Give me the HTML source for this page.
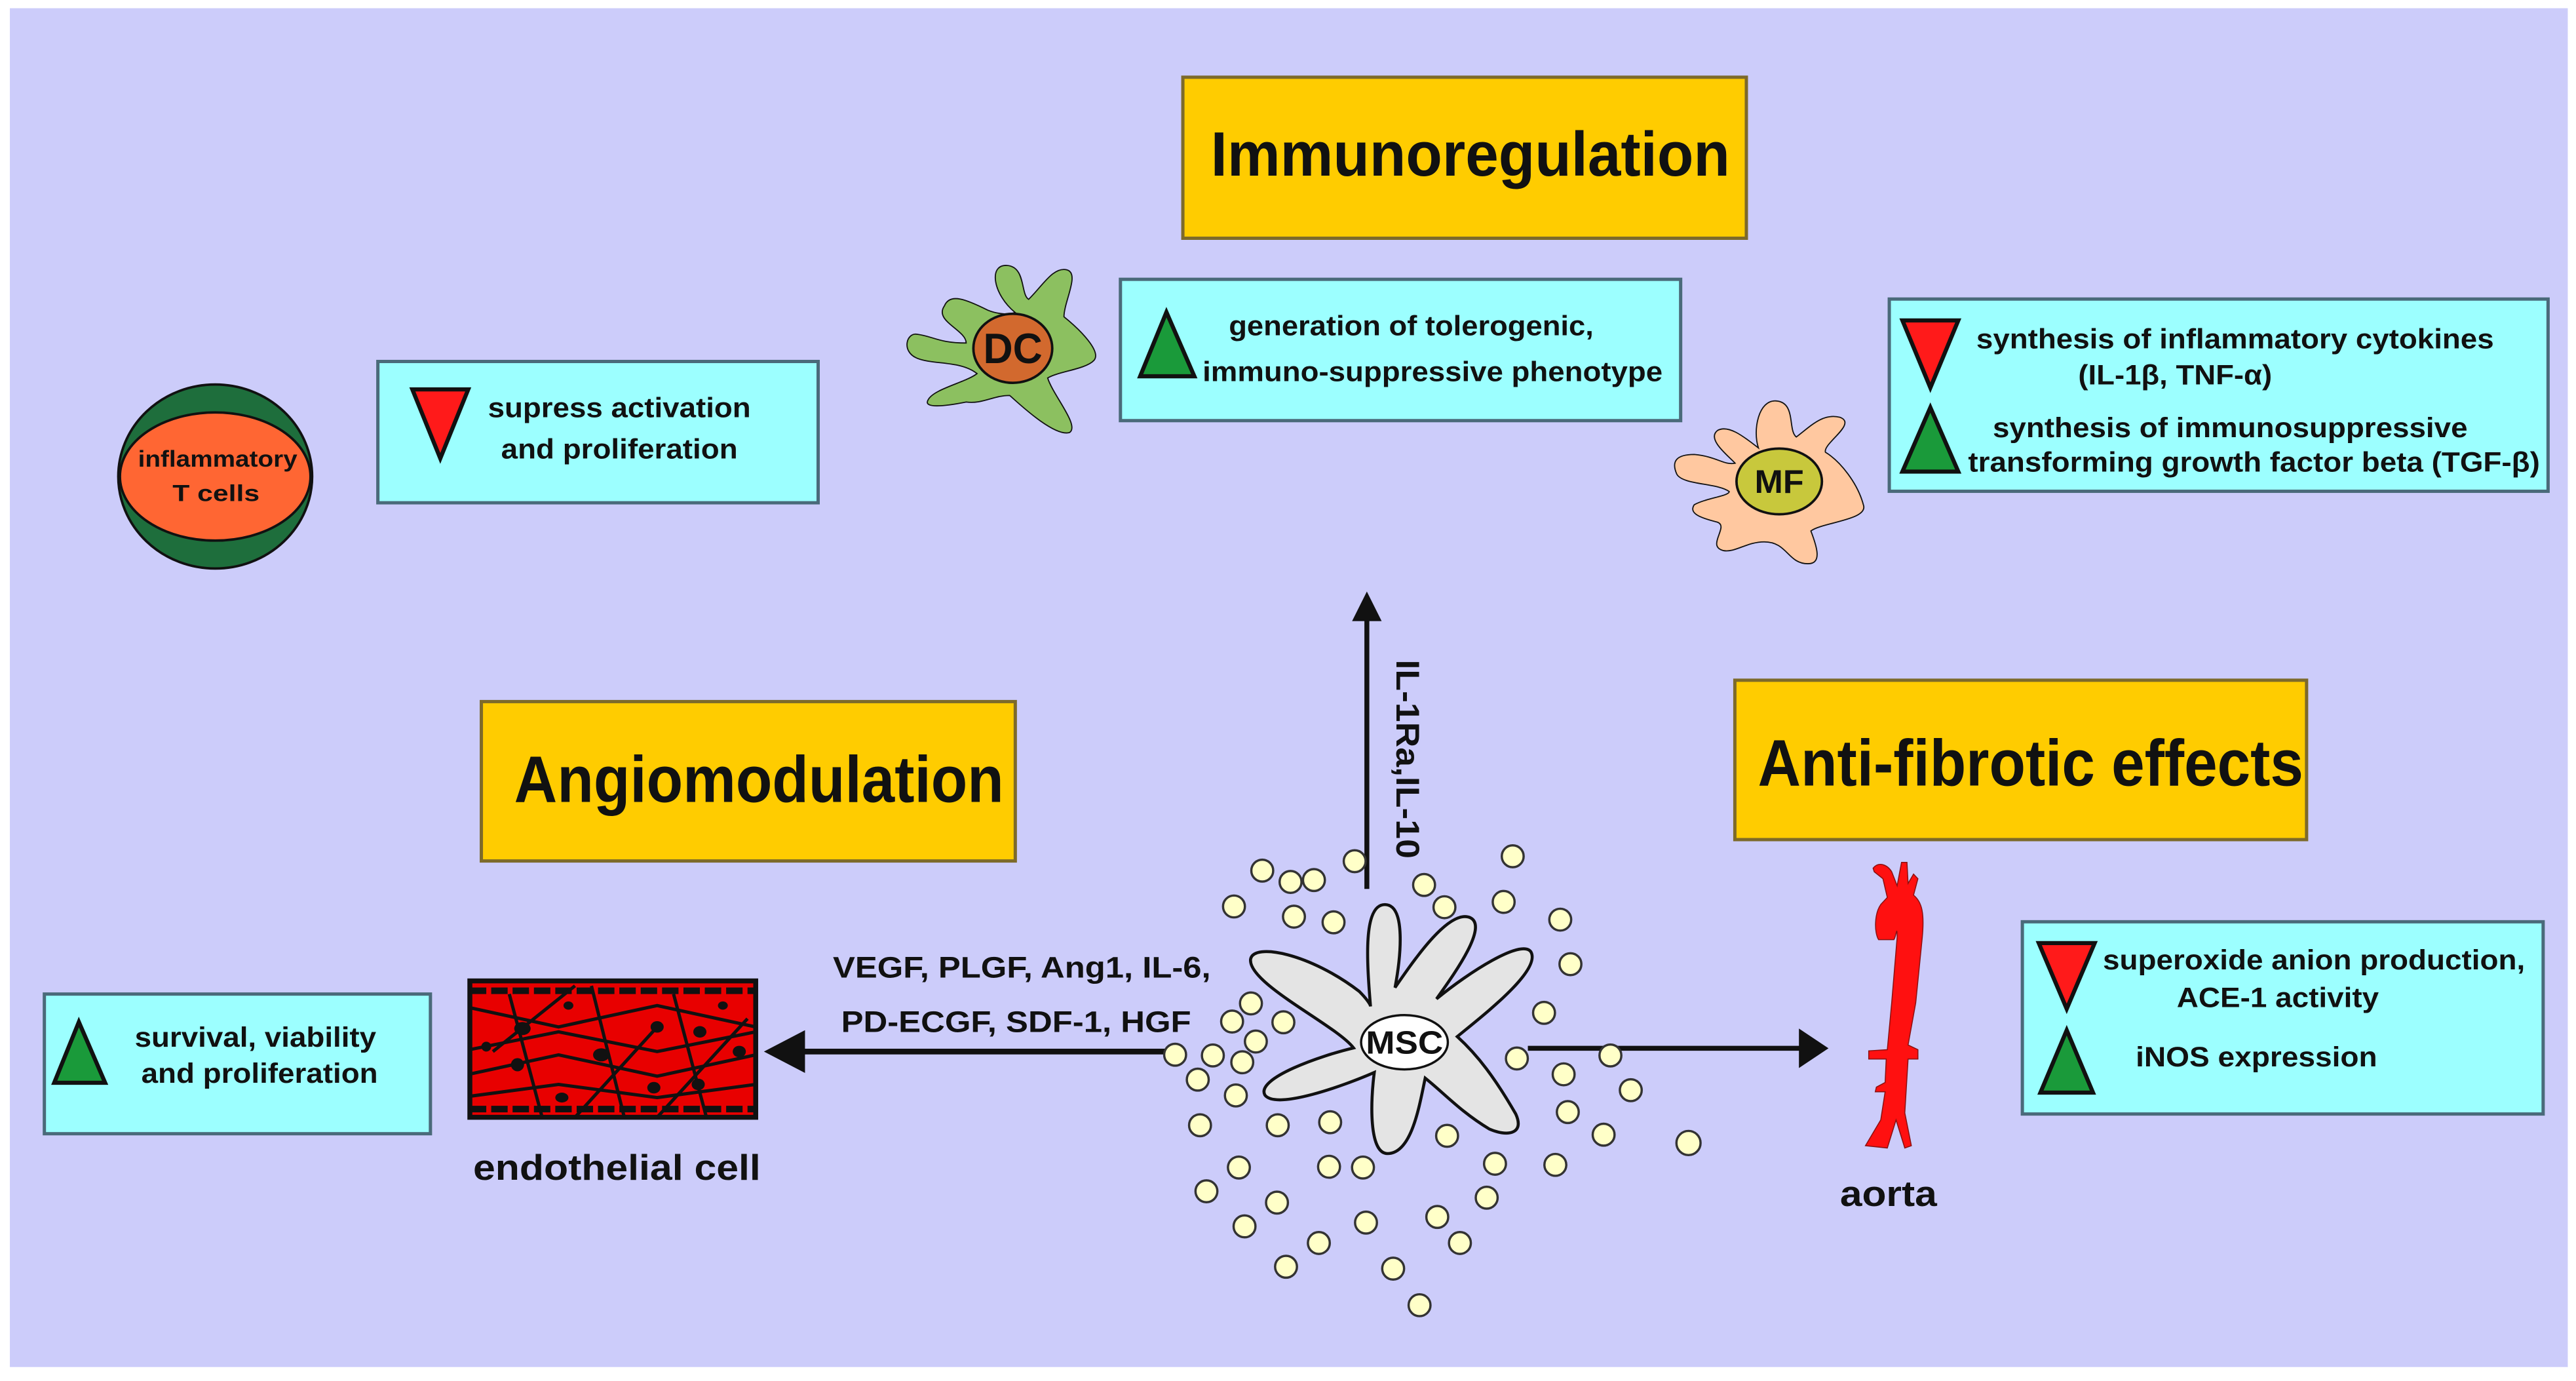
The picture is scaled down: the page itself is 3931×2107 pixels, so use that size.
<!DOCTYPE html>
<html><head><meta charset="utf-8"><style>
html,body{margin:0;padding:0;background:#fff;}
svg{display:block;}
text{font-family:"Liberation Sans",Arial,sans-serif;font-weight:bold;fill:#111;}
</style></head><body>
<svg width="3931" height="2107" viewBox="0 0 1568 840.5" preserveAspectRatio="none" xmlns="http://www.w3.org/2000/svg">
<rect x="0" y="0" width="1568" height="840.5" fill="#fff"/>
<rect x="6" y="5" width="1557" height="827" fill="#ccccfa"/>

<g fill="#ffcc00" stroke="#7d6a2a" stroke-width="2">
<rect x="720" y="47" width="343" height="98"/>
<rect x="293" y="427" width="325" height="97"/>
<rect x="1056" y="414" width="348" height="97"/>
</g>
<text x="737" y="107" font-size="38" textLength="316" lengthAdjust="spacingAndGlyphs">Immunoregulation</text>
<text x="313" y="488" font-size="40" textLength="298" lengthAdjust="spacingAndGlyphs">Angiomodulation</text>
<text x="1070" y="478" font-size="40" textLength="332" lengthAdjust="spacingAndGlyphs">Anti-fibrotic effects</text>

<g fill="#9cffff" stroke="#4a6a7a" stroke-width="2">
<rect x="230" y="220" width="268" height="86"/>
<rect x="682" y="170" width="341" height="86"/>
<rect x="1150" y="182" width="401" height="117"/>
<rect x="27" y="605" width="235" height="85"/>
<rect x="1231" y="561" width="317" height="117"/>
</g>

<g stroke="#111" stroke-width="2.5" stroke-linejoin="miter">
<polygon points="251,237 285,237 268,279" fill="#ff1a1a"/>
<polygon points="710,190 727,229 694,229" fill="#1a9a3a"/>
<polygon points="1158,195 1192,195 1175,236" fill="#ff1a1a"/>
<polygon points="1175,248 1192,287 1158,287" fill="#1a9a3a"/>
<polygon points="48,622 64,659 33,659" fill="#1a9a3a"/>
<polygon points="1241,574 1275,574 1258,614" fill="#ff1a1a"/>
<polygon points="1258,627 1274,665 1242,665" fill="#1a9a3a"/>
</g>

<g font-size="17">
<text x="297" y="254" textLength="160" lengthAdjust="spacingAndGlyphs">supress activation</text>
<text x="305" y="279" textLength="144" lengthAdjust="spacingAndGlyphs">and proliferation</text>
<text x="748" y="204" textLength="222" lengthAdjust="spacingAndGlyphs">generation of tolerogenic,</text>
<text x="732" y="232" textLength="280" lengthAdjust="spacingAndGlyphs">immuno-suppressive phenotype</text>
<text x="1203" y="212" textLength="315" lengthAdjust="spacingAndGlyphs">synthesis of inflammatory cytokines</text>
<text x="1265" y="234" textLength="118" lengthAdjust="spacingAndGlyphs">(IL-1β, TNF-α)</text>
<text x="1213" y="266" textLength="289" lengthAdjust="spacingAndGlyphs">synthesis of immunosuppressive</text>
<text x="1198" y="287" textLength="348" lengthAdjust="spacingAndGlyphs">transforming growth factor beta (TGF-β)</text>
<text x="82" y="637" textLength="147" lengthAdjust="spacingAndGlyphs">survival, viability</text>
<text x="86" y="659" textLength="144" lengthAdjust="spacingAndGlyphs">and proliferation</text>
<text x="1280" y="590" textLength="257" lengthAdjust="spacingAndGlyphs">superoxide anion production,</text>
<text x="1325" y="613" textLength="123" lengthAdjust="spacingAndGlyphs">ACE-1 activity</text>
<text x="1300" y="649" textLength="147" lengthAdjust="spacingAndGlyphs">iNOS expression</text>
</g>

<ellipse cx="131" cy="290" rx="59" ry="56" fill="#1e6e3c" stroke="#111" stroke-width="1.5"/>
<ellipse cx="131" cy="290" rx="58" ry="39" fill="#ff6633" stroke="#111" stroke-width="1.5"/>
<text x="84" y="284" font-size="14" textLength="97" lengthAdjust="spacingAndGlyphs">inflammatory</text>
<text x="105" y="305" font-size="14" textLength="53" lengthAdjust="spacingAndGlyphs">T cells</text>

<g transform="translate(538.5,139.6) scale(0.3307,0.133)">
<path d="M 240,380 C 200,300 190,160 225,165 C 260,170 250,300 265,320 C 290,260 310,170 335,185 C 360,200 330,330 330,400 C 360,460 400,560 385,600 C 370,640 320,650 300,680 C 310,760 360,900 340,930 C 310,950 240,780 230,760 C 200,760 180,800 150,790 C 110,810 70,820 80,780 C 90,730 150,700 170,660 C 140,600 90,620 60,590 C 30,560 40,470 60,480 C 90,490 100,520 150,520 C 150,460 90,420 110,350 C 120,290 150,320 190,370 C 210,390 230,390 240,380 Z" fill="#8cc060" stroke="#111" vector-effect="non-scaling-stroke" style="stroke-width:1.8"/>
</g>
<ellipse cx="616.5" cy="212" rx="24" ry="21" fill="#d2692e" stroke="#111" stroke-width="1.5"/>
<text x="616.5" y="221" font-size="26" text-anchor="middle" textLength="36" lengthAdjust="spacingAndGlyphs">DC</text>

<g transform="translate(1017.1,179.5) scale(0.3549,0.133)">
<path d="M 150,700 C 140,620 150,480 180,485 C 215,490 200,620 215,650 C 240,600 260,540 290,560 C 320,590 260,680 265,720 C 290,760 320,860 330,960 C 340,1030 260,1040 240,1080 C 250,1150 260,1230 235,1230 C 200,1230 200,1130 160,1130 C 130,1130 110,1180 90,1170 C 60,1150 100,1060 80,1040 C 50,1020 30,1000 40,960 C 60,930 100,920 100,900 C 80,860 20,870 10,820 C 0,760 10,730 40,730 C 80,740 90,780 110,770 C 100,740 60,660 80,620 C 100,590 130,660 150,700 Z" fill="#ffc8a0" stroke="#111" vector-effect="non-scaling-stroke" style="stroke-width:1.8"/>
</g>
<ellipse cx="1083" cy="293" rx="26" ry="20" fill="#c8c83c" stroke="#111" stroke-width="1.5"/>
<text x="1083" y="300" font-size="20" text-anchor="middle" textLength="30" lengthAdjust="spacingAndGlyphs">MF</text>

<line x1="832" y1="541" x2="832" y2="376" stroke="#111" stroke-width="3"/>
<polygon points="832,360 823,378 841,378" fill="#111"/>
<text transform="translate(857,462) rotate(90)" x="0" y="7" font-size="20" text-anchor="middle" textLength="121" lengthAdjust="spacingAndGlyphs">IL-1Ra,IL-10</text>

<line x1="488" y1="640" x2="716" y2="640" stroke="#111" stroke-width="3.5"/>
<polygon points="465,640 490,627 490,653" fill="#111"/>
<text x="507" y="595" font-size="18" textLength="230" lengthAdjust="spacingAndGlyphs">VEGF, PLGF, Ang1, IL-6,</text>
<text x="512" y="628" font-size="18" textLength="213" lengthAdjust="spacingAndGlyphs">PD-ECGF, SDF-1, HGF</text>

<line x1="930" y1="638" x2="1097" y2="638" stroke="#111" stroke-width="3"/>
<polygon points="1113,638 1095,626 1095,650" fill="#111"/>

<defs><clipPath id="ec"><rect x="286" y="597" width="174" height="83"/></clipPath></defs>
<rect x="286" y="597" width="174" height="83" fill="#e80000" stroke="#111" stroke-width="3"/>
<g clip-path="url(#ec)" stroke="#111" stroke-width="2" fill="none">
<line x1="286" y1="603" x2="460" y2="603" stroke-width="4" stroke-dasharray="10 3"/>
<line x1="286" y1="675" x2="460" y2="675" stroke-width="4" stroke-dasharray="10 3"/>
<path d="M280,612 L340,625 L400,612 L460,625 M280,640 L340,628 L400,640 L460,628 M280,655 L340,642 L400,655 L460,642 M280,668 L340,660 L400,668 L460,660"/>
<path d="M310,605 L330,680 M360,600 L380,680 M410,605 L430,680 M300,640 L350,600 M350,680 L400,625 M400,680 L455,620"/>
</g>
<g fill="#111">
<ellipse cx="318" cy="626" rx="5" ry="4"/><ellipse cx="366" cy="642" rx="5" ry="4"/>
<ellipse cx="400" cy="625" rx="4" ry="3.5"/><ellipse cx="346" cy="612" rx="3" ry="2.5"/>
<ellipse cx="398" cy="662" rx="4" ry="3.5"/><ellipse cx="426" cy="628" rx="4" ry="3.5"/>
<ellipse cx="450" cy="640" rx="4" ry="3.5"/><ellipse cx="315" cy="648" rx="4" ry="4"/>
<ellipse cx="342" cy="668" rx="4" ry="3"/><ellipse cx="425" cy="660" rx="4" ry="3.5"/>
<ellipse cx="296" cy="637" rx="3" ry="3"/><ellipse cx="440" cy="612" rx="3" ry="2.5"/>
</g>
<text x="288" y="718" font-size="22" textLength="175" lengthAdjust="spacingAndGlyphs">endothelial cell</text>

<g transform="translate(1108.9,510.6) scale(0.133,0.1425)">
<path d="M 235,125 C 260,95 300,110 320,140 L 345,200 L 365,100 L 390,100 L 395,190 L 420,150 L 440,170 L 420,240 C 460,270 470,320 460,420 L 430,700 L 395,880 L 440,900 L 440,940 L 395,940 L 380,1170 L 410,1310 L 380,1320 L 340,1200 L 300,1320 L 200,1310 L 270,1200 L 290,1080 L 245,1080 L 250,1060 L 290,1040 L 295,940 L 215,940 L 215,905 L 300,900 L 320,700 L 345,420 C 345,360 340,420 330,430 L 260,430 C 240,400 240,320 270,280 L 300,250 L 280,170 L 240,140 Z" fill="#ff1010" stroke="#8a1010" vector-effect="non-scaling-stroke" style="stroke-width:1.5"/>
</g>
<text x="1120" y="734" font-size="22" textLength="59" lengthAdjust="spacingAndGlyphs">aorta</text>

<g transform="translate(678.1,458.7) scale(0.2296)">
<path d="M 680,670 C 670,550 660,400 718,400 C 775,400 760,540 745,620 C 800,540 890,410 945,435 C 995,460 890,600 855,650 C 940,580 1080,490 1105,525 C 1135,575 970,700 910,750 C 965,800 1010,860 1065,955 C 1090,1010 1040,1015 995,995 C 920,950 875,900 825,860 C 810,930 790,1060 725,1060 C 675,1060 680,920 690,845 C 610,880 430,945 400,905 C 375,860 550,800 635,780 C 590,720 355,610 362,545 C 370,500 520,530 650,630 C 670,650 680,665 680,670 Z" fill="#e4e4e4" stroke="#111" stroke-width="8"/>
<ellipse cx="770" cy="765" rx="115" ry="72" fill="#fff" stroke="#111" stroke-width="6"/>
<text x="770" y="795" font-size="85" text-anchor="middle" textLength="205" lengthAdjust="spacingAndGlyphs">MSC</text>
<g fill="#ffffc8" stroke="#333" stroke-width="6">
<circle cx="393" cy="310" r="29"/><circle cx="468" cy="340" r="29"/><circle cx="530" cy="335" r="29"/><circle cx="638" cy="285" r="29"/>
<circle cx="318" cy="405" r="29"/><circle cx="477" cy="432" r="29"/><circle cx="582" cy="447" r="29"/><circle cx="1057" cy="272" r="29"/>
<circle cx="822" cy="348" r="29"/><circle cx="876" cy="407" r="29"/><circle cx="1033" cy="393" r="29"/><circle cx="1183" cy="440" r="29"/>
<circle cx="1210" cy="558" r="29"/><circle cx="1140" cy="687" r="29"/><circle cx="363" cy="662" r="29"/><circle cx="313" cy="710" r="29"/>
<circle cx="449" cy="712" r="29"/><circle cx="376" cy="763" r="29"/><circle cx="162" cy="798" r="29"/><circle cx="262" cy="800" r="29"/>
<circle cx="340" cy="818" r="29"/><circle cx="222" cy="864" r="29"/><circle cx="323" cy="906" r="29"/><circle cx="1068" cy="808" r="29"/>
<circle cx="1316" cy="800" r="29"/><circle cx="1192" cy="850" r="29"/><circle cx="1370" cy="892" r="29"/><circle cx="1203" cy="950" r="29"/>
<circle cx="1298" cy="1010" r="29"/><circle cx="1523" cy="1032" r="32"/><circle cx="228" cy="985" r="29"/><circle cx="434" cy="985" r="29"/>
<circle cx="573" cy="977" r="29"/><circle cx="883" cy="1013" r="29"/><circle cx="331" cy="1097" r="29"/><circle cx="570" cy="1095" r="29"/>
<circle cx="660" cy="1097" r="29"/><circle cx="1010" cy="1087" r="29"/><circle cx="1170" cy="1090" r="29"/><circle cx="245" cy="1160" r="29"/>
<circle cx="432" cy="1190" r="29"/><circle cx="988" cy="1177" r="29"/><circle cx="346" cy="1253" r="29"/><circle cx="668" cy="1243" r="29"/>
<circle cx="857" cy="1228" r="29"/><circle cx="917" cy="1297" r="29"/><circle cx="543" cy="1297" r="29"/><circle cx="456" cy="1360" r="29"/>
<circle cx="740" cy="1365" r="29"/><circle cx="810" cy="1462" r="29"/>
</g>
</g>
</svg>
</body></html>
